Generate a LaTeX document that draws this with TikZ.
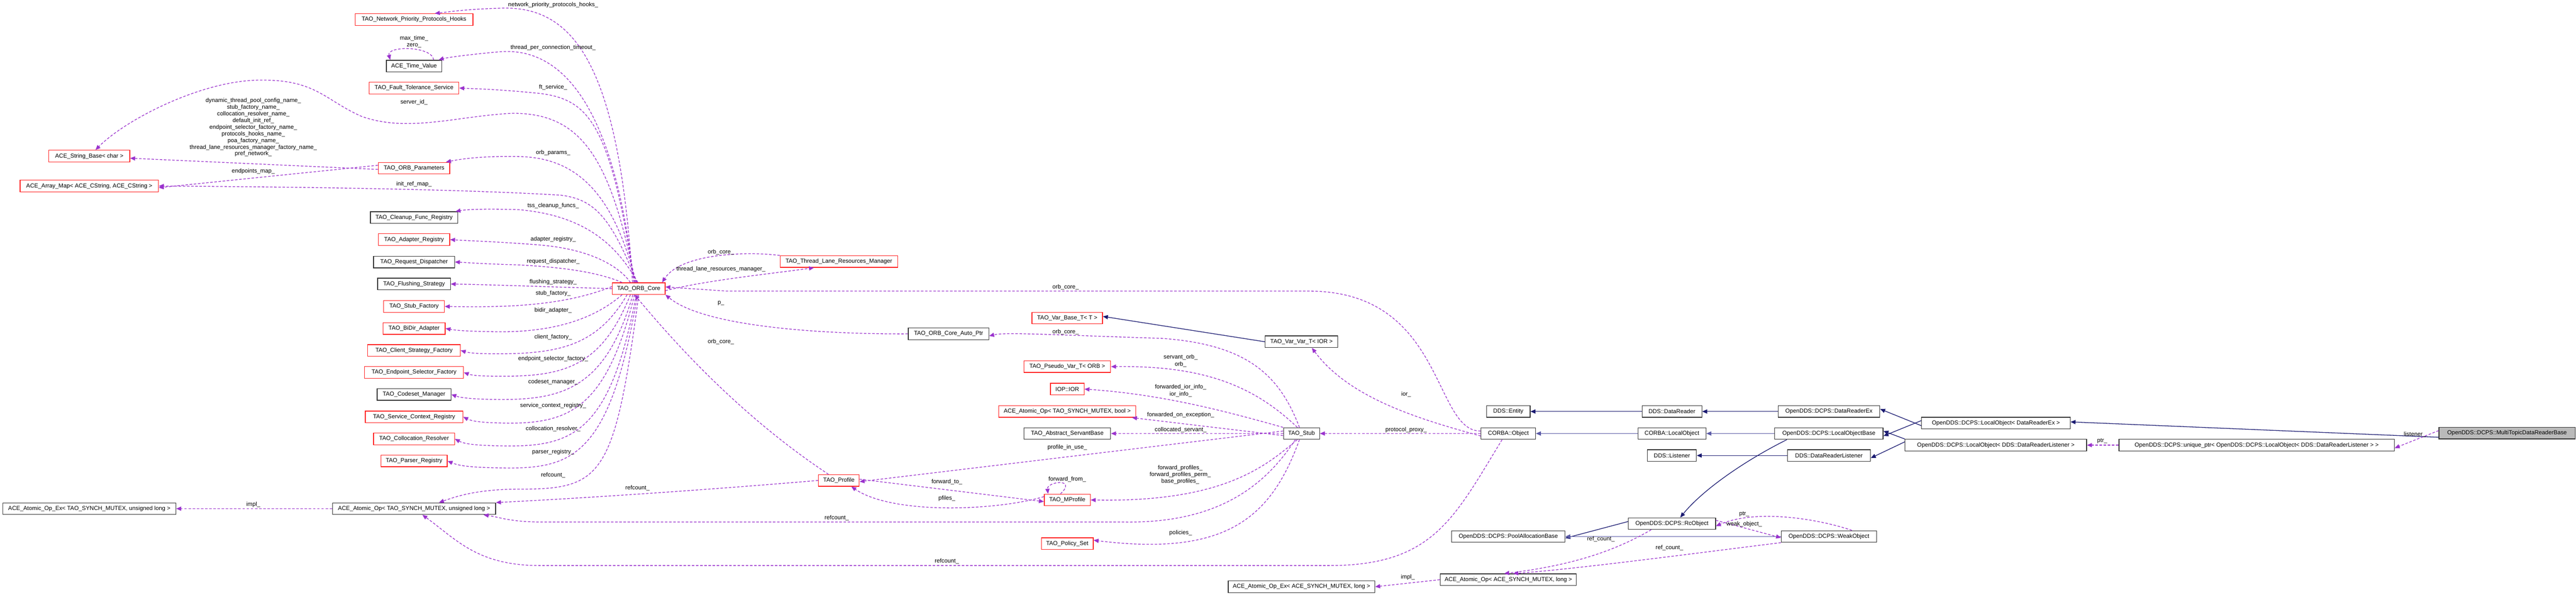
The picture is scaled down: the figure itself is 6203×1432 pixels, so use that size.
\documentclass[tikz,border=0pt]{standalone}
\usepackage{fontspec}
\setmainfont{Liberation Sans}
\usetikzlibrary{arrows.meta}
\definecolor{purp}{HTML}{9A32CD}
\definecolor{navy}{HTML}{191970}
\definecolor{slate}{HTML}{5A5AA6}
\definecolor{boxred}{HTML}{FF2020}
\begin{document}
\begin{tikzpicture}[x=1pt,y=-1pt,
  bx/.style={draw=black!80,line width=1.6pt,fill=white,minimum height=28pt,inner sep=0pt,font=\fontsize{14}{16}\selectfont},
  rb/.style={bx,draw=boxred},
  dep/.style={draw=purp,line width=1.6pt,dash pattern=on 6pt off 4pt,-{Triangle[length=12pt,width=10pt]}},
  inh/.style={draw=navy,line width=1.6pt,-{Triangle[length=12pt,width=10pt]}},
  inl/.style={inh,draw=slate},
  lb/.style={font=\fontsize{14}{16}\selectfont,inner sep=1pt,align=center}]
\useasboundingbox (0,0) rectangle (6203,1432);
% nodes
\node[rb,minimum width=284] (NPPH) at (997,47) {TAO\_Network\_Priority\_Protocols\_Hooks};
\node[bx,minimum width=133] (TV) at (997,159) {ACE\_Time\_Value};
\node[rb,minimum width=216] (FTS) at (997,212) {TAO\_Fault\_Tolerance\_Service};
\node[rb,minimum width=195] (SB) at (215,376) {ACE\_String\_Base< char >};
\node[rb,minimum width=172] (OP) at (997,405) {TAO\_ORB\_Parameters};
\node[rb,minimum width=333] (AM) at (215,448) {ACE\_Array\_Map< ACE\_CString, ACE\_CString >};
\node[bx,minimum width=210] (CFR) at (997,524) {TAO\_Cleanup\_Func\_Registry};
\node[rb,minimum width=172] (AR) at (997,577) {TAO\_Adapter\_Registry};
\node[bx,minimum width=195] (RD) at (997,631) {TAO\_Request\_Dispatcher};
\node[bx,minimum width=175] (FS) at (997,684) {TAO\_Flushing\_Strategy};
\node[rb,minimum width=127] (OC) at (1538,695) {TAO\_ORB\_Core};
\node[rb,minimum width=146] (SF) at (997,738) {TAO\_Stub\_Factory};
\node[rb,minimum width=150] (BD) at (997,791) {TAO\_BiDir\_Adapter};
\node[rb,minimum width=223] (CSF) at (997,844) {TAO\_Client\_Strategy\_Factory};
\node[rb,minimum width=238] (ESF) at (997,897) {TAO\_Endpoint\_Selector\_Factory};
\node[bx,minimum width=178] (CM) at (997,950) {TAO\_Codeset\_Manager};
\node[rb,minimum width=235] (SCR) at (997,1004) {TAO\_Service\_Context\_Registry};
\node[rb,minimum width=195] (CR) at (997,1057) {TAO\_Collocation\_Resolver};
\node[rb,minimum width=160] (PR) at (997,1110) {TAO\_Parser\_Registry};
\node[bx,minimum width=393] (AT) at (997,1225) {ACE\_Atomic\_Op< TAO\_SYNCH\_MUTEX, unsigned long >};
\node[bx,minimum width=417] (AXT) at (215,1225) {ACE\_Atomic\_Op\_Ex< TAO\_SYNCH\_MUTEX, unsigned long >};
\node[rb,minimum width=283] (TL) at (2020,630) {TAO\_Thread\_Lane\_Resources\_Manager};
\node[rb,minimum width=170] (VB) at (2570,766) {TAO\_Var\_Base\_T< T >};
\node[bx,minimum width=194] (AP) at (2284,804) {TAO\_ORB\_Core\_Auto\_Ptr};
\node[bx,minimum width=175] (VV) at (3134,823) {TAO\_Var\_Var\_T< IOR >};
\node[rb,minimum width=209] (PV) at (2570,883) {TAO\_Pseudo\_Var\_T< ORB >};
\node[rb,minimum width=81] (IOR) at (2570,937) {IOP::IOR};
\node[rb,minimum width=330] (AB) at (2570,991) {ACE\_Atomic\_Op< TAO\_SYNCH\_MUTEX, bool >};
\node[bx,minimum width=209] (ASB) at (2570,1044) {TAO\_Abstract\_ServantBase};
\node[bx,minimum width=87] (ST) at (3134,1044) {TAO\_Stub};
\node[rb,minimum width=98] (PF) at (2020,1157) {TAO\_Profile};
\node[rb,minimum width=111] (MP) at (2570,1204) {TAO\_MProfile};
\node[rb,minimum width=125] (PS) at (2570,1309) {TAO\_Policy\_Set};
\node[bx,minimum width=353] (AXA) at (3134,1413) {ACE\_Atomic\_Op\_Ex< ACE\_SYNCH\_MUTEX, long >};
\node[bx,minimum width=131] (CO) at (3632,1044) {CORBA::Object};
\node[bx,minimum width=105] (EN) at (3632,991) {DDS::Entity};
\node[bx,minimum width=144] (DR) at (4026,991) {DDS::DataReader};
\node[bx,minimum width=245] (DRX) at (4404,991) {OpenDDS::DCPS::DataReaderEx};
\node[bx,minimum width=164] (LO) at (4026,1044) {CORBA::LocalObject};
\node[bx,minimum width=261] (LOB) at (4404,1044) {OpenDDS::DCPS::LocalObjectBase};
\node[bx,minimum width=118] (LI) at (4026,1097) {DDS::Listener};
\node[bx,minimum width=200] (DRL) at (4404,1097) {DDS::DataReaderListener};
\node[bx,minimum width=358] (LX) at (4806,1019) {OpenDDS::DCPS::LocalObject< DataReaderEx >};
\node[bx,minimum width=437] (LL) at (4806,1072) {OpenDDS::DCPS::LocalObject< DDS::DataReaderListener >};
\node[bx,minimum width=663] (UP) at (5434,1072) {OpenDDS::DCPS::unique\_ptr< OpenDDS::DCPS::LocalObject< DDS::DataReaderListener > >};
\node[bx,minimum width=328,fill=black!27] (MT) at (6037,1043) {OpenDDS::DCPS::MultiTopicDataReaderBase};
\node[bx,minimum width=210] (RC) at (4026,1261) {OpenDDS::DCPS::RcObject};
\node[bx,minimum width=273] (PA) at (3632,1292) {OpenDDS::DCPS::PoolAllocationBase};
\node[bx,minimum width=229] (WO) at (4404,1292) {OpenDDS::DCPS::WeakObject};
\node[bx,minimum width=328] (AA) at (3632,1396) {ACE\_Atomic\_Op< ACE\_SYNCH\_MUTEX, long >};
% ORB core edges
\draw[dep] ([xshift=-15pt]OC.north) .. controls (1490,150) and (1380,10) .. (1200,20) .. controls (1120,22) and (1070,30) .. ([xshift=50pt]NPPH.north);
\node[lb] at (1332,12) {network\_priority\_protocols\_hooks\_};
\draw[dep] ([xshift=-12pt]OC.north) .. controls (1480,250) and (1350,110) .. (1200,125) .. controls (1120,132) and (1070,140) .. ([xshift=-8pt]TV.north east);
\node[lb] at (1332,115) {thread\_per\_connection\_timeout\_};
\draw[dep] ([xshift=-20pt]TV.north east) .. controls (1040,110) and (930,110) .. ([xshift=10pt]TV.north west);
\node[lb] at (997,92) {max\_time\_};
\node[lb] at (997,110) {zero\_};
\draw[dep] ([xshift=-10pt]OC.north) .. controls (1470,300) and (1420,240) .. (1300,225) .. controls (1200,215) and (1150,214) .. (FTS.east);
\node[lb] at (1332,210) {ft\_service\_};
\draw[dep] ([xshift=-8pt]OC.north) .. controls (1470,380) and (1400,270) .. (1230,273) .. controls (1100,280) and (980,320) .. (870,280) .. controls (780,240) and (760,190) .. (620,193) .. controls (480,196) and (300,290) .. ([xshift=15pt]SB.north);
\node[lb] at (997,246) {server\_id\_};
\draw[dep] ([xshift=-6pt]OC.north) .. controls (1480,480) and (1400,380) .. (1250,377) .. controls (1150,375) and (1100,385) .. ([xshift=-10pt]OP.north east);
\node[lb] at (1332,368) {orb\_params\_};
\draw[dep] ([yshift=-3pt]OP.west) -- ([yshift=-5pt]SB.east);
\node[lb] at (610,307) {dynamic\_thread\_pool\_config\_name\_\\stub\_factory\_name\_\\collocation\_resolver\_name\_\\default\_init\_ref\_\\endpoint\_selector\_factory\_name\_\\protocols\_hooks\_name\_\\poa\_factory\_name\_\\thread\_lane\_resources\_manager\_factory\_name\_\\pref\_network\_};
\draw[dep] ([yshift=7pt]OP.west) -- ([yshift=-4pt]AM.east);
\node[lb] at (610,412) {endpoints\_map\_};
\draw[dep] ([xshift=-4pt]OC.north) .. controls (1470,520) and (1430,480) .. (1350,470) .. controls (1100,455) and (700,450) .. (AM.east);
\node[lb] at (997,443) {init\_ref\_map\_};
\draw[dep] ([xshift=-2pt]OC.north) .. controls (1490,600) and (1420,520) .. (1250,505) .. controls (1160,502) and (1120,505) .. ([xshift=-6pt]CFR.north east);
\node[lb] at (1332,496) {tss\_cleanup\_funcs\_};
\draw[dep] ([xshift=-20pt]OC.north) .. controls (1490,640) and (1420,600) .. (1300,590) .. controls (1200,582) and (1130,580) .. (AR.east);
\node[lb] at (1332,576) {adapter\_registry\_};
\draw[dep] ([xshift=-40pt]OC.north) .. controls (1450,660) and (1380,645) .. (1250,638) .. controls (1150,635) and (1120,632) .. (RD.east);
\node[lb] at (1332,630) {request\_dispatcher\_};
\draw[dep] (OC.west) .. controls (1350,692) and (1200,686) .. (FS.east);
\node[lb] at (1332,679) {flushing\_strategy\_};
\draw[dep] ([yshift=5pt]OC.west) .. controls (1350,740) and (1200,740) .. (SF.east);
\node[lb] at (1332,706) {stub\_factory\_};
\draw[dep] ([xshift=-40pt]OC.south) .. controls (1440,760) and (1350,800) .. (1200,799) .. controls (1130,798) and (1100,796) .. (BD.east);
\node[lb] at (1332,748) {bidir\_adapter\_};
\draw[dep] ([xshift=-28pt]OC.south) .. controls (1440,830) and (1350,852) .. (1200,852) .. controls (1150,852) and (1130,850) .. (CSF.east);
\node[lb] at (1332,812) {client\_factory\_};
\draw[dep] ([xshift=-20pt]OC.south) .. controls (1450,880) and (1360,905) .. (1220,906) .. controls (1160,906) and (1140,905) .. (ESF.east);
\node[lb] at (1332,864) {endpoint\_selector\_factory\_};
\draw[dep] ([xshift=-14pt]OC.south) .. controls (1460,930) and (1360,962) .. (1210,962) .. controls (1140,962) and (1110,958) .. (CM.east);
\node[lb] at (1332,920) {codeset\_manager\_};
\draw[dep] ([xshift=-10pt]OC.south) .. controls (1460,985) and (1370,1020) .. (1220,1019) .. controls (1170,1018) and (1140,1016) .. (SCR.east);
\node[lb] at (1332,977) {service\_context\_registry\_};
\draw[dep] ([xshift=-6pt]OC.south) .. controls (1470,1040) and (1380,1075) .. (1220,1074) .. controls (1150,1073) and (1120,1070) .. (CR.east);
\node[lb] at (1332,1033) {collocation\_resolver\_};
\draw[dep] ([xshift=-3pt]OC.south) .. controls (1470,1095) and (1380,1128) .. (1220,1127) .. controls (1150,1126) and (1110,1124) .. (PR.east);
\node[lb] at (1332,1089) {parser\_registry\_};
\draw[dep] (OC.south) .. controls (1480,1150) and (1450,1178) .. (1250,1178) .. controls (1150,1178) and (1100,1195) .. ([xshift=60pt]AT.north);
\node[lb] at (1332,1145) {refcount\_};
\draw[dep] (AT.west) -- (AXT.east);
\node[lb] at (610,1215) {impl\_};
% thread lane
\draw[dep] (TL.north west) .. controls (1800,605) and (1640,610) .. ([xshift=-8pt]OC.north east);
\node[lb] at (1736,607) {orb\_core\_};
\draw[dep] ([yshift=-5pt]OC.east) .. controls (1700,675) and (1850,660) .. ([xshift=-60pt]TL.south);
\node[lb] at (1736,648) {thread\_lane\_resources\_manager\_};
\draw[dep] ([yshift=6pt]CO.west) .. controls (3450,1040) and (3480,700) .. (3150,701) -- (1750,701) -- ([yshift=4pt]OC.east);
\node[lb] at (2566,692) {orb\_core\_};
\draw[dep] (AP.west) .. controls (2000,805) and (1700,790) .. (OC.south east);
\node[lb] at (1736,730) {p\_};
\draw[dep] ([xshift=-25pt]PF.north) .. controls (1780,1000) and (1620,820) .. ([xshift=-10pt]OC.south);
\node[lb] at (1736,823) {orb\_core\_};
% stub area
\draw[inh] (VV.west) -- ([yshift=4pt]VB.east);
\draw[dep] ([yshift=-6pt]CO.west) .. controls (3420,1010) and (3250,960) .. ([xshift=25pt]VV.south);
\node[lb] at (3386,950) {ior\_};
\draw[dep] ([xshift=-5pt]ST.north) .. controls (3080,900) and (3000,830) .. (2800,815) .. controls (2500,805) and (2420,800) .. ([yshift=-5pt]AP.east);
\node[lb] at (2566,800) {orb\_core\_};
\draw[dep] ([xshift=-10pt]ST.north) .. controls (3020,930) and (2900,880) .. ([yshift=0pt]PV.east);
\node[lb] at (2843,860) {servant\_orb\_};
\node[lb] at (2843,878) {orb\_};
\draw[dep] (ST.north west) .. controls (2950,990) and (2800,950) .. (IOR.east);
\node[lb] at (2843,932) {forwarded\_ior\_info\_};
\node[lb] at (2843,950) {ior\_info\_};
\draw[dep] ([yshift=-5pt]ST.west) -- ([xshift=-10pt]AB.south east);
\node[lb] at (2843,1000) {forwarded\_on\_exception\_};
\draw[dep] (ST.west) -- (ASB.east);
\node[lb] at (2843,1035) {collocated\_servant\_};
\draw[dep] ([yshift=6pt]ST.west) -- ([yshift=-3pt]PF.east);
\node[lb] at (2570,1078) {profile\_in\_use\_};
\draw[dep] ([xshift=-10pt]ST.south) .. controls (3050,1120) and (2950,1210) .. (MP.east);
\node[lb] at (2842,1143) {forward\_profiles\_\\forward\_profiles\_perm\_\\base\_profiles\_};
\draw[dep] ([xshift=-5pt]ST.south) .. controls (3060,1250) and (2950,1340) .. ([yshift=8pt]PS.east);
\node[lb] at (2843,1284) {policies\_};
\draw[dep] ([xshift=-15pt]ST.south) .. controls (3040,1180) and (2920,1262) .. (2700,1257) -- (1300,1257) .. controls (1230,1257) and (1200,1245) .. ([xshift=-30pt]AT.south east);
\node[lb] at (2015,1247) {refcount\_};
\draw[dep] ([yshift=3pt]PF.east) -- ([yshift=-4pt]MP.west);
\node[lb] at (2280,1161) {forward\_to\_};
\draw[dep] ([yshift=8pt]MP.west) .. controls (2400,1230) and (2150,1240) .. ([xshift=30pt]PF.south);
\node[lb] at (2280,1200) {pfiles\_};
\draw[dep] ([xshift=40pt]MP.north west) .. controls (2595,1150) and (2520,1160) .. ([xshift=10pt]MP.north west);
\node[lb] at (2570,1155) {forward\_from\_};
\draw[dep] (PF.west) .. controls (1700,1180) and (1400,1200) .. (AT.north east);
\node[lb] at (1535,1176) {refcount\_};
\draw[dep] (CO.west) -- (ST.east);
\node[lb] at (3386,1035) {protocol\_proxy\_};
\draw[dep] ([xshift=-15pt]CO.south) .. controls (3500,1250) and (3450,1362) .. (3200,1362) -- (1300,1362) .. controls (1150,1362) and (1100,1300) .. ([xshift=20pt]AT.south);
\node[lb] at (2280,1352) {refcount\_};
% inheritance right
\draw[inl] (LO.west) -- (CO.east);
\draw[inl] (LOB.west) -- (LO.east);
\draw[inh] (DR.west) -- (EN.east);
\draw[inh] (DRX.west) -- (DR.east);
\draw[inh] (DRL.west) -- (LI.east);
\draw[inh] ([xshift=30pt]LOB.south west) .. controls (4200,1110) and (4100,1180) .. ([xshift=20pt]RC.north);
\draw[inh] ([yshift=5pt]RC.west) -- ([yshift=-4pt]PA.east);
\draw[inl] (WO.west) -- (PA.east);
\draw[inh] ([yshift=-6pt]LX.west) -- ([yshift=6pt]DRX.east);
\draw[inh] ([yshift=6pt]LX.west) -- ([yshift=-6pt]LOB.east);
\draw[inh] (LL.north west) -- ([yshift=6pt]LOB.east);
\draw[inh] ([yshift=8pt]LL.west) -- ([yshift=-6pt]DRL.east);
\draw[inh] ([yshift=-10pt]MT.west) -- ([yshift=3pt]LX.east);
\draw[dep] ([yshift=6pt]MT.west) -- ([yshift=-7pt]UP.east);
\node[lb] at (5815,1046) {listener\_};
\draw[dep] (UP.west) -- (LL.east);
\node[lb] at (5062,1062) {ptr\_};
% rc / weak
\draw[dep] ([xshift=-50pt]RC.south) .. controls (3900,1320) and (3800,1360) .. ([xshift=-10pt]AA.north);
\node[lb] at (3855,1298) {ref\_count\_};
\draw[dep] (WO.south west) .. controls (4100,1330) and (3800,1370) .. ([xshift=12pt]AA.north);
\node[lb] at (4020,1320) {ref\_count\_};
\draw[dep] ([xshift=-60pt]WO.north east) .. controls (4380,1250) and (4230,1225) .. ([yshift=-6pt]RC.east);
\node[lb] at (4200,1238) {ptr\_};
\draw[dep] ([yshift=8pt]RC.east) -- ([yshift=-3pt]WO.west);
\node[lb] at (4200,1262) {weak\_object\_};
\draw[dep] (AA.west) -- (AXA.east);
\node[lb] at (3390,1390) {impl\_};
\end{tikzpicture}
\end{document}
